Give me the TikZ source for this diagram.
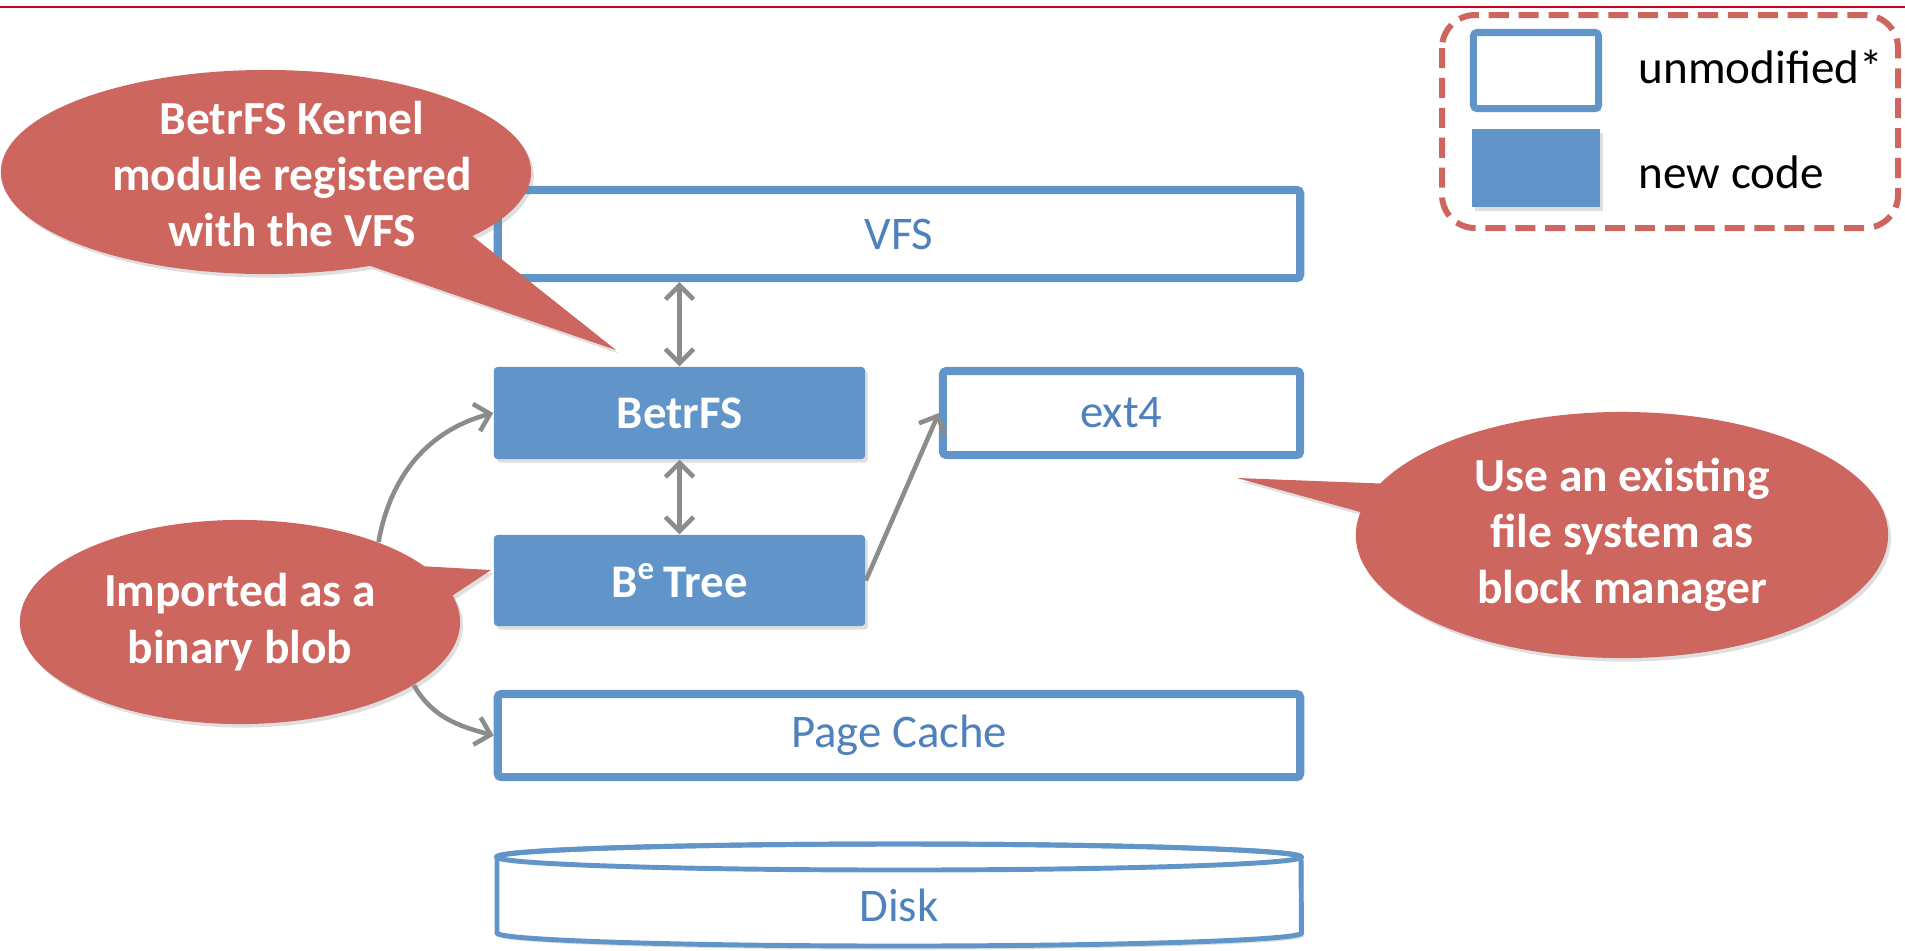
\documentclass[tikz,border=0pt]{standalone}
\usepackage{fontspec}
\setmainfont{Carlito}
\usetikzlibrary{arrows.meta,shapes.callouts,shadows,positioning}
\definecolor{boxblue}{RGB}{97,149,201}
\definecolor{labelblue}{RGB}{79,129,189}
\definecolor{notered}{RGB}{205,102,94}
\definecolor{arrowgray}{RGB}{140,140,140}
\definecolor{rulered}{RGB}{204,0,30}
\tikzset{
  soft/.style={drop shadow={opacity=0.25,shadow xshift=0.8pt,shadow yshift=-1pt}},
  newbox/.style={fill=boxblue, rounded corners=1pt, inner sep=0pt, text=white,
    font=\fontsize{13.3}{16}\selectfont\bfseries, soft},
  oldbox/.style={draw=boxblue, line width=2.3pt, fill=white, rounded corners=1pt,
    inner sep=0pt, text=labelblue, font=\fontsize{13.3}{16}\selectfont, soft},
  bubble/.style={ellipse callout, fill=notered, inner sep=0pt, text=white, align=center,
    font=\fontsize{13.5}{16}\selectfont\bfseries, soft},
  flow/.style={draw=arrowgray, line width=1.3pt, -{Straight Barb[length=4pt,width=8pt]}},
  twoway/.style={flow, {Straight Barb[length=4pt,width=8pt]}-{Straight Barb[length=4pt,width=8pt]}},
  keytext/.style={font=\fontsize{13.4}{16}\selectfont, anchor=base west, inner sep=0pt}
}
\begin{document}
\begin{tikzpicture}[x=0.01cm,y=-0.01cm]
	\useasboundingbox (0,0) rectangle (1905,950);
	\draw[rulered, line width=0.8pt] (0,7) -- (1905,7);
	% layers
	\node[oldbox, minimum width=8.02cm, minimum height=0.88cm] (vfs) at (899,234) {VFS};
	\node[newbox, minimum width=3.71cm, minimum height=0.92cm] (betrfs) at (679.5,413) {BetrFS};
	\node[oldbox, minimum width=3.57cm, minimum height=0.84cm] (ext4) at (1121.5,413) {ext4};
	\node[newbox, minimum width=3.71cm, minimum height=0.91cm] (betree) at (679.5,580.5) {B\textsuperscript{e}\,Tree};
	\node[oldbox, minimum width=8.02cm, minimum height=0.83cm] (pagecache) at (899,735.5) {Page Cache};
	% disk
	\draw[draw=boxblue, fill=white, line width=1.4pt, soft] (497,857) -- (497,933)
		arc[start angle=180, end angle=360, x radius=4.02cm, y radius=0.13cm] -- (1301,857)
		arc[start angle=0, end angle=180, x radius=4.02cm, y radius=0.13cm];
	\draw[draw=boxblue, line width=1.4pt] (899,857) ellipse [x radius=4.02cm, y radius=0.13cm];
	\node[text=labelblue, font=\fontsize{13.3}{16}\selectfont] (disk) at (899,905) {Disk};
	% arrows
	\draw[twoway] (betrfs.north |- vfs.south) -- (betrfs.north);
	\draw[twoway] (betrfs.south) -- (betree.north);
	\draw[flow] (betree.east) -- (ext4.west);
	% notes
	\coordinate (kerneltip) at (616,350);
	\coordinate (blobtip) at (491,570);
	\coordinate (ext4tip) at (1237,478);
	\node[bubble, minimum width=5.3cm, minimum height=2.04cm, callout absolute pointer=(kerneltip),
		callout pointer arc=28] (kernelnote) at (266,172)
		{\makebox[0pt]{\hspace*{0.52cm}\raisebox{-0.2cm}[0pt][0pt]{\begin{tabular}{@{}c@{}}BetrFS Kernel\\module registered\\with the VFS\end{tabular}}}};
	\node[bubble, minimum width=4.4cm, minimum height=2.04cm, callout absolute pointer=(blobtip),
		callout pointer arc=18] (blobnote) at (240,622) {Imported as a\\binary blob};
	\node[bubble, minimum width=5.32cm, minimum height=2.46cm, callout absolute pointer=(ext4tip),
		callout pointer arc=14] (ext4note) at (1622,535) {Use an existing\\file system as\\block manager};
	\draw[flow] (blobnote.30) to[out=80,in=195] (betrfs.west);
	\draw[flow] (blobnote.-20) to[out=-60,in=165] (pagecache.west);
	% legend
	\draw[notered, line width=1.7pt, dash pattern=on 5.7pt off 2.8pt, rounded corners=0.33cm]
		(1442,15) rectangle (1898,228);
	\node[oldbox, line width=2pt, minimum width=1.25cm, minimum height=0.76cm] (keyold) at (1536,70.5) {};
	\node[newbox, rounded corners=0pt, minimum width=1.28cm, minimum height=0.78cm] (keynew) at (1536,168) {};
	\node[keytext] (keyoldtext) at (1638,83) {unmodified*};
	\node[keytext] (keynewtext) at (1638,188) {new code};
\end{tikzpicture}
\end{document}
